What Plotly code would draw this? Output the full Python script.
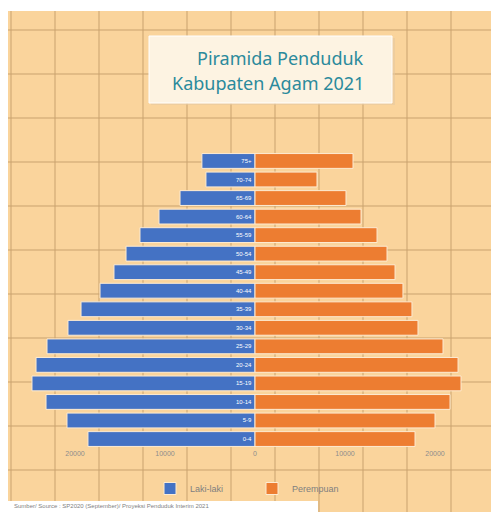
import plotly.graph_objects as go

# The page body adds an 8px margin; figure pixels = reference pixels - 8
W, H = 500, 520
OFF = 8

age_groups = ["0-4", "5-9", "10-14", "15-19", "20-24", "25-29", "30-34", "35-39",
              "40-44", "45-49", "50-54", "55-59", "60-64", "65-69", "70-74", "75+"]
laki_laki = [18560, 20890, 23220, 24780, 24330, 23110, 20780, 19330,
             17220, 15670, 14330, 12780, 10670, 8330, 5450, 5900]
perempuan = [17780, 20000, 21670, 22890, 22560, 20890, 18110, 17440,
             16440, 15560, 14670, 13560, 11780, 10110, 6890, 10890]
tick_vals = [-20000, -10000, 0, 10000, 20000]
tick_text = ["20000", "10000", "0", "10000", "20000"]

title_line1 = "Piramida Penduduk"
title_line2 = "Kabupaten Agam 2021"
source_text = "Sumber/ Source : SP2020 (September)/ Proyeksi Penduduk Interim 2021"


def X(px):
    return (px - OFF) / W


def Y(py):
    return 1 - (py - OFF) / H


BLUE = "#4472C4"
ORANGE = "#ED7D31"
BG = "#FAD49C"
GRID = "#C9A26E"

fig = go.Figure()
fig.add_trace(go.Bar(
    y=age_groups, x=[-v for v in laki_laki], orientation="h", name="Laki-laki",
    marker=dict(color=BLUE, line=dict(color="#FDEBD2", width=1)),
    text=age_groups, textposition="inside", insidetextanchor="start",
    textfont=dict(color="white", size=6, family="Arial"), textangle=0,
    constraintext="none", hoverinfo="skip",
))
fig.add_trace(go.Bar(
    y=age_groups, x=perempuan, orientation="h", name="Perempuan",
    marker=dict(color=ORANGE, line=dict(color="#FDEBD2", width=1)),
    hoverinfo="skip",
))

shapes = []
# background paper
shapes.append(dict(type="rect", xref="paper", yref="paper", x0=X(7), x1=X(530),
                   y0=Y(540), y1=Y(11), fillcolor=BG, line=dict(width=0), layer="below"))
# decorative grid
for k in range(12):
    xp = 11 + 44 * k
    shapes.append(dict(type="line", xref="paper", yref="paper", x0=X(xp), x1=X(xp),
                       y0=Y(540), y1=Y(11), line=dict(color=GRID, width=1), layer="below"))
for k in range(12):
    yp = 30 + 44 * k
    shapes.append(dict(type="line", xref="paper", yref="paper", x0=X(7), x1=X(530),
                       y0=Y(yp), y1=Y(yp), line=dict(color=GRID, width=1), layer="below"))
# title box
shapes.append(dict(type="rect", xref="paper", yref="paper", x0=X(151), x1=X(395),
                   y0=Y(105), y1=Y(38), fillcolor="rgba(230,200,160,0.6)",
                   line=dict(width=0), layer="below"))
shapes.append(dict(type="rect", xref="paper", yref="paper", x0=X(149), x1=X(392),
                   y0=Y(103), y1=Y(36), fillcolor="#FDF3E2",
                   line=dict(color="#FFFFFF", width=1), layer="below"))
# footer box
shapes.append(dict(type="rect", xref="paper", yref="paper", x0=X(7), x1=X(318),
                   y0=Y(520), y1=Y(501), fillcolor="#FFFFFF",
                   line=dict(width=0), layer="below"))

annotations = [
    dict(text=title_line1, xref="paper", yref="paper", x=X(280), y=Y(58),
         xanchor="center", yanchor="middle", showarrow=False,
         font=dict(family="Noto Sans", size=18, color="#2B8A9C")),
    dict(text=title_line2, xref="paper", yref="paper", x=X(268), y=Y(83),
         xanchor="center", yanchor="middle", showarrow=False,
         font=dict(family="Noto Sans", size=18, color="#2B8A9C")),
    dict(text=source_text, xref="paper", yref="paper", x=X(12), y=Y(506),
         xanchor="left", yanchor="middle", showarrow=False,
         font=dict(family="Arial", size=6, color="#7F7F7F")),
]

fig.update_layout(
    width=W, height=H,
    margin=dict(l=0, r=0, t=0, b=0),
    paper_bgcolor="white",
    plot_bgcolor="rgba(0,0,0,0)",
    barmode="relative",
    bargap=0.2,
    shapes=shapes,
    annotations=annotations,
    showlegend=True,
    legend=dict(orientation="h", x=X(150), y=Y(474), xanchor="left", yanchor="top",
                bgcolor="rgba(0,0,0,0)", font=dict(family="Arial", size=9, color="#7F7F7F"),
                entrywidth=57, entrywidthmode="pixels", traceorder="normal"),
    xaxis=dict(domain=[X(30), X(480)], range=[-25000, 25000],
               tickvals=tick_vals, ticktext=tick_text, showgrid=False, zeroline=False,
               showline=False, ticks="", tickfont=dict(family="Arial", size=7, color="#8C8C8C"),
               fixedrange=True),
    yaxis=dict(domain=[Y(448.3), Y(151.7)], categoryorder="array", categoryarray=age_groups,
               showticklabels=False, showgrid=False, zeroline=False, showline=False,
               ticks="", fixedrange=True),
)

fig.write_html("out.html")
